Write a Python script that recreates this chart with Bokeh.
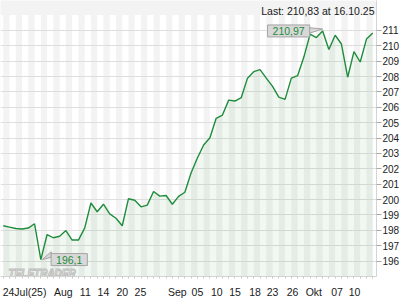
from bokeh.plotting import figure
from bokeh.models import Range1d, FixedTicker, Label, ColumnDataSource
from bokeh.embed import file_html
from bokeh.resources import INLINE

# ---- data -------------------------------------------------------------
closes = [198.30, 198.21, 198.12, 198.09, 198.15, 198.43, 196.10, 197.73, 197.52, 197.62,
          197.99, 197.37, 197.37, 198.15, 199.78, 199.21, 199.70, 199.07, 198.79, 198.30,
          200.06, 199.96, 199.53, 199.64, 200.53, 200.23, 200.27, 199.70, 200.21, 200.48,
          201.75, 202.71, 203.55, 204.02, 205.29, 205.50, 206.47, 206.41, 206.63, 207.90,
          208.32, 208.46, 207.90, 207.36, 206.67, 206.52, 207.90, 208.06, 209.27, 210.76,
          210.54, 210.97, 209.76, 210.69, 210.12, 207.96, 209.63, 208.95, 210.44, 210.83]
last_date = "16.10.25"
x_tick_pos = [3.4, 9.6, 13.1, 16.0, 19.0, 21.9, 27.8, 31.0, 34.1, 37.0, 40.2, 43.0, 46.2, 49.6, 53.3, 56.1]
x_tick_labels = ["24Jul(25)", "Aug", "11", "14", "20", "25", "Sep", "05", "10", "15",
                 "18", "23", "26", "Okt", "07", "10"]
y_ticks = list(range(196, 212))

# ---- helpers ------------------------------------------------------------
def de(v):
    s = f"{v:.2f}".rstrip("0").rstrip(".")
    return s.replace(".", ",")

n = len(closes)
idx = list(range(n))
x_lo, x_hi = -0.44, n - 0.4
y_lo, y_hi = 195.0, 212.95
stripe_top = 212.0

W, H = 420, 300
FW, FH = 376, 281
px_x = (x_hi - x_lo) / FW
px_y = (y_hi - y_lo) / FH

FONT = "Liberation Sans"
GREEN = "#1f8c3c"

p = figure(width=W, height=H, x_range=Range1d(x_lo, x_hi), y_range=Range1d(y_lo, y_hi),
           y_axis_location="right", toolbar_location=None, output_backend="svg",
           min_border_left=0, min_border_top=0, min_border_right=W - FW, min_border_bottom=H - FH)
p.background_fill_color = "#f3f3f3"
p.border_fill_color = "white"
p.outline_line_color = None

# alternating day stripes
lefts = [i - 1 for i in range(0, n + 2, 2)]
rights = [i for i in range(0, n + 2, 2)]
p.quad(left=lefts, right=rights, bottom=y_lo, top=stripe_top, fill_color="white",
       line_color=None, level="image")

# grid
p.xgrid.grid_line_color = None
p.ygrid.grid_line_color = "#dedede"
p.ygrid.grid_line_width = 1

# area + line
src = ColumnDataSource(dict(x=idx, y=closes))
p.varea(x="x", y1=y_lo, y2="y", source=src, fill_color="#3a9a3a", fill_alpha=0.07)
p.line(x="x", y="y", source=src, line_color=GREEN, line_width=1.4)

# axes
xa = p.xaxis[0]
xa.ticker = FixedTicker(ticks=x_tick_pos, minor_ticks=idx)
xa.major_label_overrides = {t: l for t, l in zip(x_tick_pos, x_tick_labels)}
xa.major_tick_line_color = None
xa.minor_tick_in = 0
xa.minor_tick_out = 2
xa.minor_tick_line_color = "#c8c8c8"
xa.axis_line_color = "#d4d4d4"
xa.major_label_standoff = 3
xa.major_label_text_font = FONT
xa.major_label_text_font_size = "10.5px"
xa.major_label_text_color = "#1a1a1a"

ya = p.yaxis[0]
ya.ticker = FixedTicker(ticks=y_ticks)
ya.major_tick_in = 0
ya.major_tick_out = 5
ya.major_tick_line_color = "#a8a8a8"
ya.minor_tick_line_color = None
ya.axis_line_color = "#d4d4d4"
ya.major_label_standoff = 1
ya.major_label_text_font = FONT
ya.major_label_text_font_size = "10px"
ya.major_label_text_color = "#1a1a1a"

# callouts for max / min
imax = max(idx, key=lambda i: closes[i])
imin = min(idx, key=lambda i: closes[i])
vmax, vmin = closes[imax], closes[imin]

BOX_FILL, BOX_LINE = "#d8d8d8", "#a4a4a4"
# tail for max (box to the left)
p.patch(x=[imax - 13.3 * px_x, imax - 13.3 * px_x, imax],
        y=[vmax + 3.3 * px_y, vmax - 2.3 * px_y, vmax + 2 * px_y],
        fill_color=BOX_FILL, line_color=BOX_LINE, line_width=1)
# tail for min (box to the right)
p.patch(x=[imin + 10.4 * px_x, imin + 10.4 * px_x, imin + 1.4 * px_x],
        y=[vmin + 8 * px_y, vmin + 2.3 * px_y, vmin],
        fill_color=BOX_FILL, line_color=BOX_LINE, line_width=1)

# watermark
p.add_layout(Label(x=x_lo, y=y_lo, x_offset=8, y_offset=3, text="TELETRADER",
                   text_font=FONT, text_font_size="10px", text_font_style="bold italic",
                   text_color="white", text_outline_color="#bdbdbd",
                   text_baseline="alphabetic", text_align="left"))

p.add_layout(Label(x=imax, y=vmax, x_offset=-34, y_offset=0, text=de(vmax),
                   text_font=FONT, text_font_size="10.5px", text_color=GREEN,
                   text_align="center", text_baseline="middle",
                   background_fill_color=BOX_FILL, border_line_color=BOX_LINE,
                   padding=(5, 2)))
p.add_layout(Label(x=imin, y=vmin, x_offset=28.4, y_offset=0, text=de(vmin),
                   text_font=FONT, text_font_size="10.5px", text_color=GREEN,
                   text_align="center", text_baseline="middle",
                   background_fill_color=BOX_FILL, border_line_color=BOX_LINE,
                   padding=(5, 2)))

# header
p.add_layout(Label(x=x_hi, y=y_hi, x_offset=-2, y_offset=-10.5,
                   text=f"Last: {de(closes[-1])} at {last_date}",
                   text_font=FONT, text_font_size="10.5px", text_color="#1a1a1a",
                   text_align="right", text_baseline="alphabetic"))

open("out.html", "w").write(file_html(p, INLINE))
